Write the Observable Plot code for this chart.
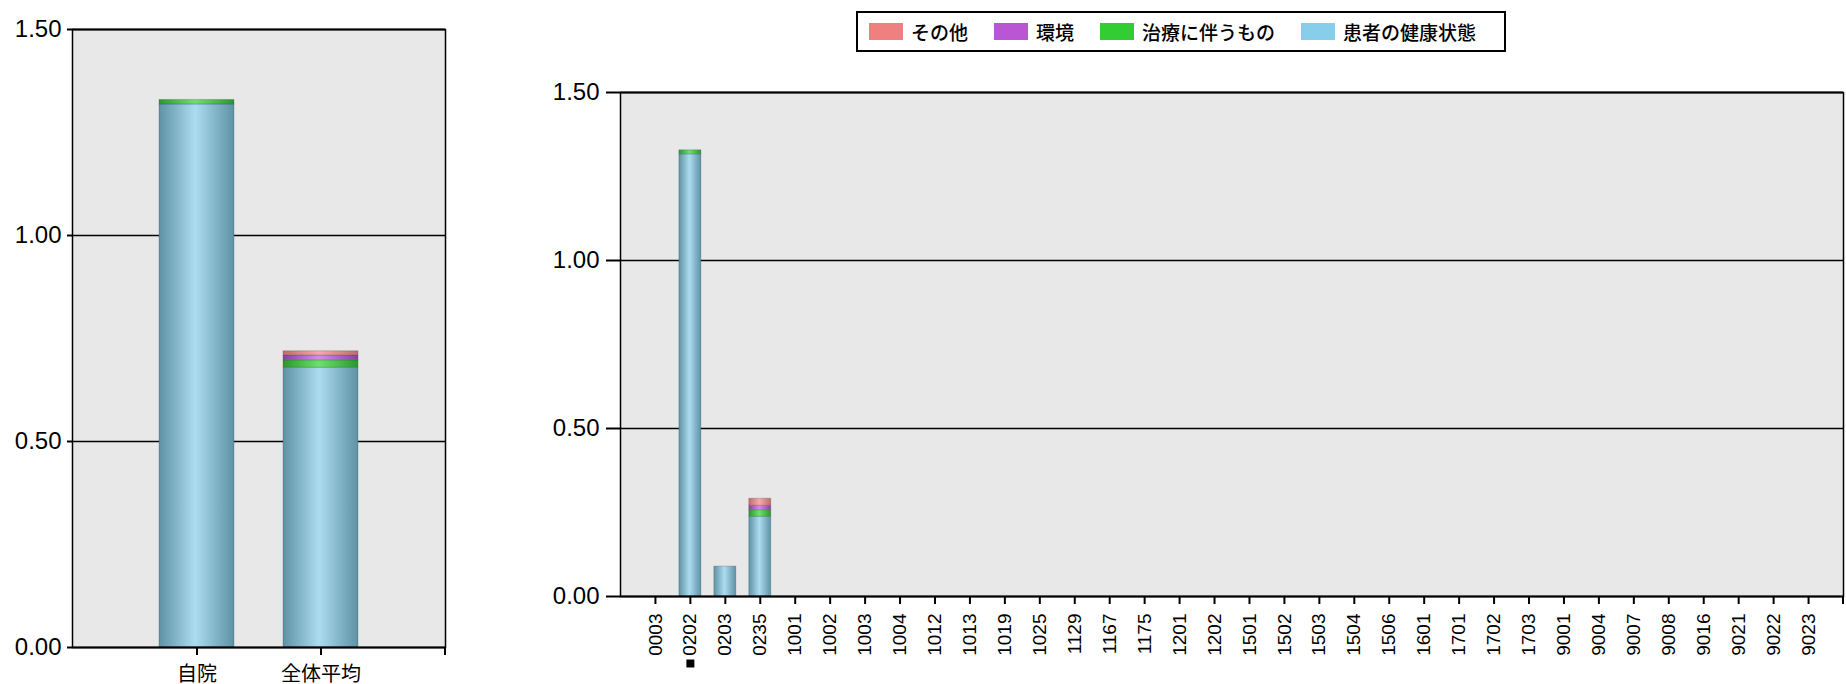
<!DOCTYPE html>
<html><head><meta charset="utf-8">
<script src="https://cdn.jsdelivr.net/npm/d3@7"></script>
<script src="https://cdn.jsdelivr.net/npm/@observablehq/plot@0.6"></script>
<style>
body{margin:0;background:#fff;}
#wrap{position:relative;width:1846px;height:684px;overflow:hidden;}
#left{position:absolute;left:0;top:0;}
#right{position:absolute;left:470px;top:0;}
#legend{position:absolute;left:856px;top:11px;width:650px;height:41px;box-sizing:border-box;border:2px solid #000;background:#fff;display:flex;align-items:center;padding-left:11px;font-family:"Noto Sans CJK JP",sans-serif;font-size:19px;font-weight:500;color:#000;}
.item{display:flex;align-items:center;margin-right:26px;}
.sw{width:34px;height:17px;margin-right:8px;}
</style></head><body>
<div id="wrap"><div id="left"></div><div id="right"></div><div id="legend"></div></div>
<script>
// ---- series ----
const seriesNames = ["患者の健康状態", "治療に伴うもの", "環境", "その他"];
const seriesColors = ["#87CEEB", "#32CD32", "#BA55D3", "#F08080"];
const legendOrder = ["その他", "環境", "治療に伴うもの", "患者の健康状態"];
const gradEdge = ["#5e92a4", "#2a982a", "#8a3fa2", "#c26a6a"];
const gradMid = ["#acdcf1", "#6ee06e", "#d88ae8", "#f5aaaa"];

// ---- left chart: own hospital vs overall average ----
const compareCategories = ["自院", "全体平均"];
const compareHealth = [1.318, 0.679];
const compareTreatment = [0.011, 0.018];
const compareEnvironment = [0, 0.012];
const compareOther = [0, 0.010];

// ---- right chart: hospitals ----
const hospitals = ["0003","0202","0203","0235","1001","1002","1003","1004","1012","1013",
  "1019","1025","1129","1167","1175","1201","1202","1501","1502","1503",
  "1504","1506","1601","1701","1702","1703","9001","9004","9007","9008",
  "9016","9021","9022","9023"];
const ownHospital = "0202";
const hospHealth = [
  0, 1.316, 0.089, 0.237, 0, 0, 0, 0, 0, 0,
  0, 0, 0, 0, 0, 0, 0, 0, 0, 0,
  0, 0, 0, 0, 0, 0, 0, 0, 0, 0,
  0, 0, 0, 0];
const hospTreatment = [
  0, 0.012, 0, 0.020, 0, 0, 0, 0, 0, 0,
  0, 0, 0, 0, 0, 0, 0, 0, 0, 0,
  0, 0, 0, 0, 0, 0, 0, 0, 0, 0,
  0, 0, 0, 0];
const hospEnvironment = [
  0, 0, 0, 0.013, 0, 0, 0, 0, 0, 0,
  0, 0, 0, 0, 0, 0, 0, 0, 0, 0,
  0, 0, 0, 0, 0, 0, 0, 0, 0, 0,
  0, 0, 0, 0];
const hospOther = [
  0, 0, 0, 0.021, 0, 0, 0, 0, 0, 0,
  0, 0, 0, 0, 0, 0, 0, 0, 0, 0,
  0, 0, 0, 0, 0, 0, 0, 0, 0, 0,
  0, 0, 0, 0];

const yTicks = [0, 0.5, 1.0, 1.5];

function buildRows(cats, seriesValues) {
  const rows = [];
  cats.forEach((c, i) => {
    seriesNames.forEach((s, k) => {
      const v = seriesValues[k][i];
      if (v > 0) rows.push({cat: c, series: s, value: v});
    });
  });
  return rows;
}

function gradientDefs(prefix) {
  return () => {
    const defs = d3.create("svg:defs");
    seriesNames.forEach((s, i) => {
      const g = defs.append("linearGradient").attr("id", prefix + i)
        .attr("x1", "0%").attr("x2", "100%").attr("y1", "0%").attr("y2", "0%");
      g.append("stop").attr("offset", "0%").attr("stop-color", gradEdge[i]);
      g.append("stop").attr("offset", "48%").attr("stop-color", gradMid[i]);
      g.append("stop").attr("offset", "100%").attr("stop-color", gradEdge[i]);
    });
    return defs.node();
  };
}

function endTick(len) {
  return (index, scales, values, dims) => {
    const x = dims.width - dims.marginRight;
    const y = dims.height - dims.marginBottom;
    const l = d3.create("svg:line")
      .attr("x1", x).attr("x2", x).attr("y1", y).attr("y2", y + len)
      .attr("stroke", "#000").attr("stroke-width", 2);
    return l.node();
  };
}

function makeChart(o) {
  return Plot.plot({
    width: o.width, height: o.height,
    marginLeft: o.ml, marginRight: o.mr, marginTop: o.mt, marginBottom: o.mb,
    style: {fontFamily: '"Liberation Sans", Arial, "Noto Sans CJK JP", sans-serif', color: "#000", background: "transparent", overflow: "visible"},
    x: {domain: o.cats, paddingInner: o.pad, paddingOuter: (1 + o.pad) / 2, label: null},
    y: {domain: [0, 1.5], label: null},
    color: {domain: seriesNames, range: seriesNames.map((s, i) => `url(#${o.prefix}${i})`)},
    marks: [
      gradientDefs(o.prefix),
      Plot.frame({fill: "#e8e8e8"}),
      Plot.ruleY([0.5, 1.0], {stroke: "#000", strokeWidth: 1.3}),
      Plot.barY(o.rows, {x: "cat", y: "value", fill: "series", order: seriesNames,
        stroke: "#1d3a44", strokeOpacity: 0.22, strokeWidth: 1}),
      Plot.frame({stroke: "#000", strokeWidth: 1.5}),
      Plot.ruleY([0, 1.5], {stroke: "#000", strokeWidth: 2}),
      Plot.axisY(yTicks, {tickFormat: d3.format(".2f"), tickSize: o.yTickSize, tickPadding: o.yTickPad,
        fontSize: 24, strokeWidth: 2, label: null}),
      Plot.axisX({tickSize: 8, tickPadding: o.xTickPad, tickRotate: o.xRotate, fontSize: o.xFont,
        strokeWidth: 2, label: null}),
      endTick(8),
      ...(o.extra || [])
    ]
  });
}

const leftRows = buildRows(compareCategories, [compareHealth, compareTreatment, compareEnvironment, compareOther]);
const rightRows = buildRows(hospitals, [hospHealth, hospTreatment, hospEnvironment, hospOther]);

document.getElementById("left").appendChild(makeChart({
  prefix: "lg", cats: compareCategories, rows: leftRows,
  width: 470, height: 684, ml: 72, mr: 25, mt: 29, mb: 37, pad: 0.395,
  yTickSize: 5, yTickPad: 6, xTickPad: 11, xRotate: 0, xFont: 20
}));

document.getElementById("right").appendChild(makeChart({
  prefix: "rg", cats: hospitals, rows: rightRows,
  width: 1376, height: 684, ml: 150, mr: 3, mt: 92, mb: 88, pad: 0.37,
  yTickSize: 14, yTickPad: 7, xTickPad: 9, xRotate: -90, xFont: 19,
  extra: [Plot.dot([ownHospital], {x: d => d, frameAnchor: "bottom", dy: 67, symbol: "square", r: 4.5, fill: "#000"})]
}));

// legend
const legend = document.getElementById("legend");
legendOrder.forEach(name => {
  const i = seriesNames.indexOf(name);
  const item = document.createElement("div");
  item.className = "item";
  const sw = document.createElement("div");
  sw.className = "sw";
  sw.style.background = seriesColors[i];
  const t = document.createElement("span");
  t.textContent = name;
  item.appendChild(sw); item.appendChild(t);
  legend.appendChild(item);
});
</script>
</body></html>
